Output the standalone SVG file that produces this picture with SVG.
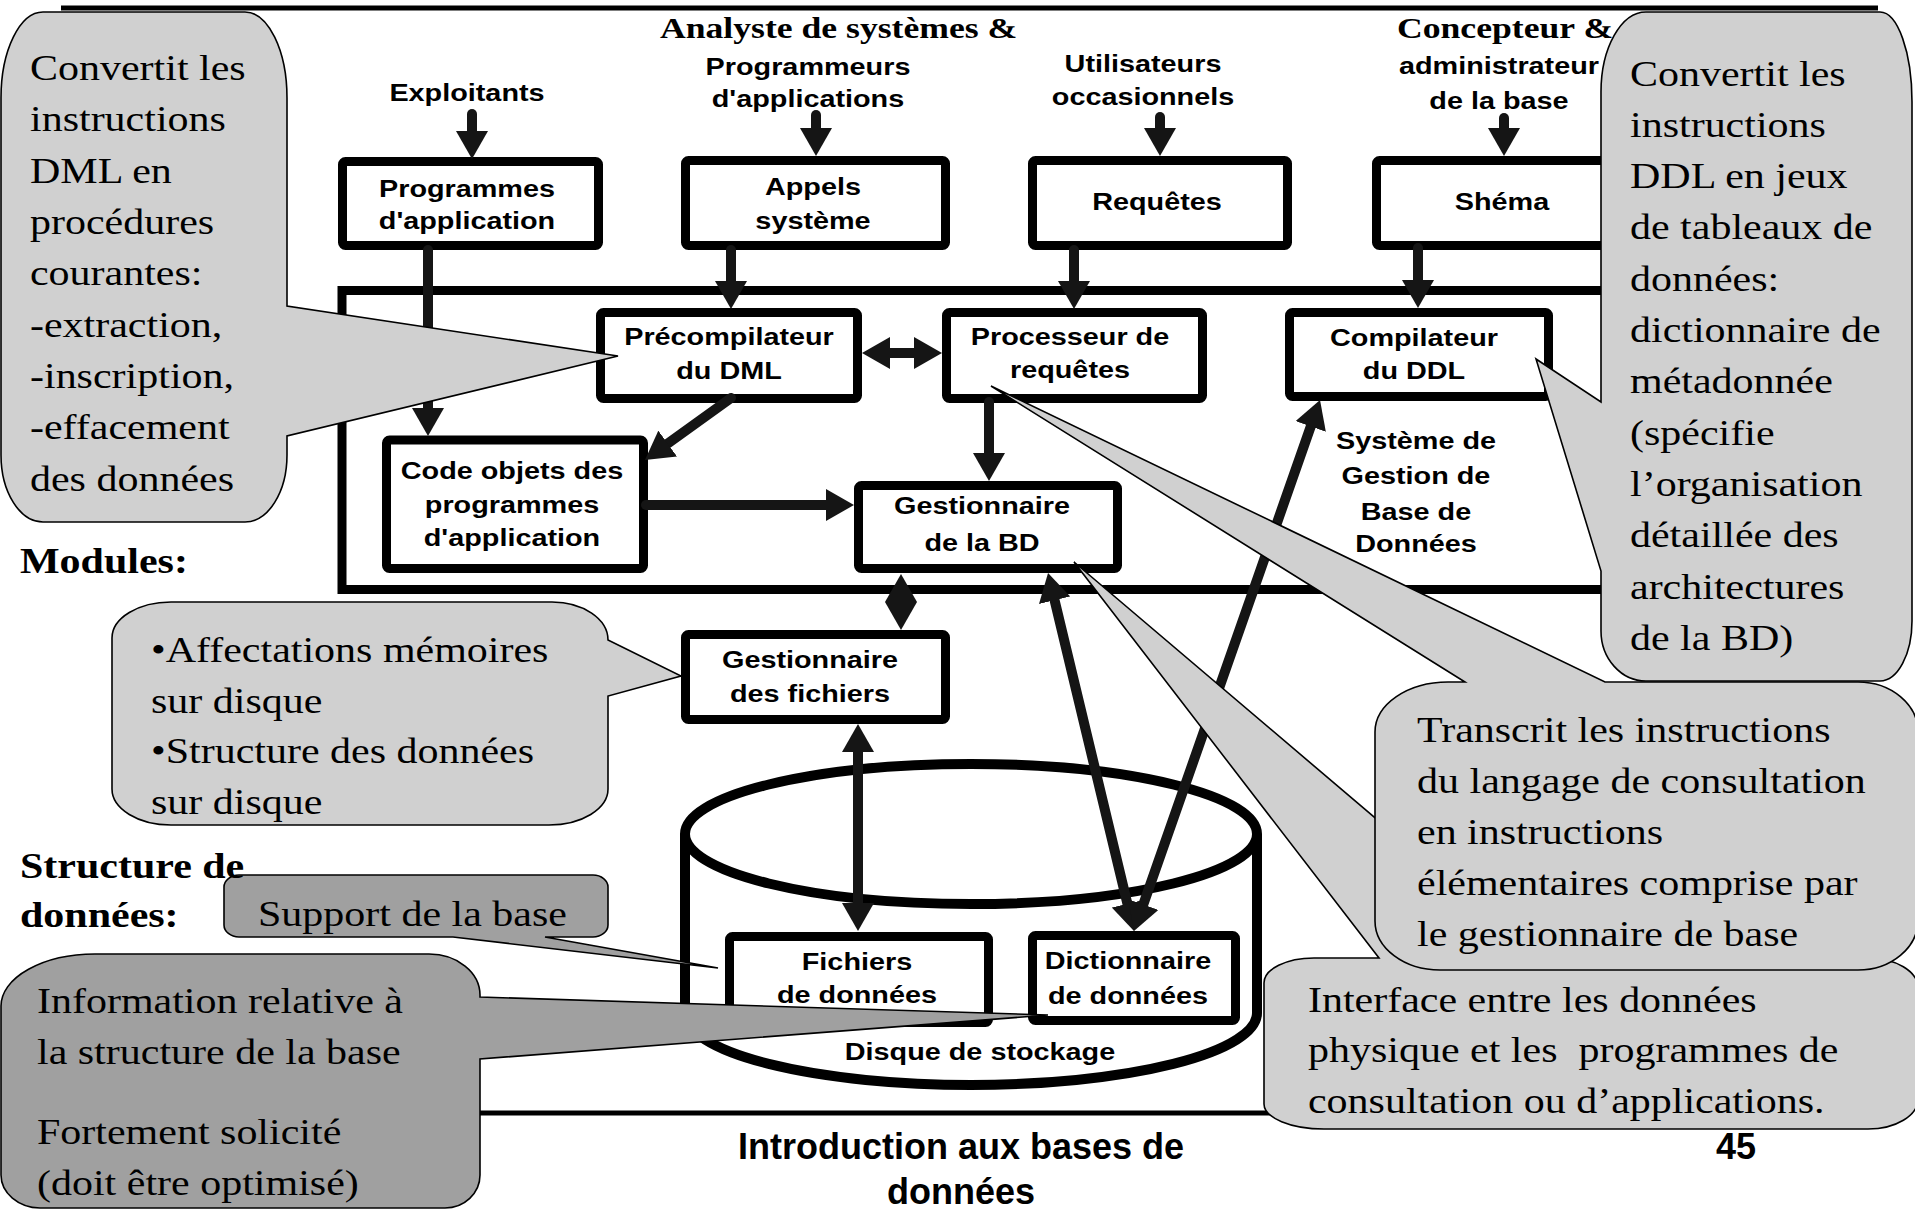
<svg xmlns="http://www.w3.org/2000/svg" width="1915" height="1210" viewBox="0 0 1915 1210">
<style>
.lbl{font-family:"Liberation Sans",Arial,sans-serif;font-weight:bold;font-size:24px;text-anchor:middle;fill:#000}
.co{font-family:"Liberation Serif","Times New Roman",serif;font-size:35px;fill:#000}
.hd{font-family:"Liberation Serif","Times New Roman",serif;font-weight:bold;font-size:35px;fill:#000}
.act{font-family:"Liberation Serif","Times New Roman",serif;font-weight:bold;font-size:29.7px;fill:#000}
.foot{font-family:"Liberation Sans",Arial,sans-serif;font-weight:bold;font-size:36px;fill:#000;text-anchor:middle}
.box{fill:#fff;stroke:#000;stroke-width:9}
.frame{fill:none;stroke:#000;stroke-width:9}
.rule{stroke:#000;stroke-width:5}
.arr{stroke:#151515;stroke-width:10;fill:none;stroke-linecap:round}
.light{fill:#d0d0d0;stroke:#000;stroke-width:1.6;stroke-linejoin:miter}
.dark{fill:#a0a0a0;stroke:#000;stroke-width:1.6}
.pre{white-space:pre}
</style>
<defs>
<marker id="ah" viewBox="0 0 28 32" refX="8" refY="16" markerWidth="28" markerHeight="32" markerUnits="userSpaceOnUse" orient="auto-start-reverse">
<path d="M0,0 L28,16 L0,32 Z" fill="#151515"/>
</marker>
</defs>
<rect width="1915" height="1210" fill="#fff"/>

<g id="page-rules">
<line class="rule" x1="61" y1="8" x2="1878" y2="8"/>
<line class="rule" x1="50" y1="1113" x2="1878" y2="1113"/>
</g>

<g id="dbms-frame">
<rect class="frame" x="342" y="290.5" width="1330" height="299"/>
<text class="lbl" transform="matrix(1.2 0 0 1 -283.2 0)"><tspan x="1416" y="449">Système de</tspan><tspan x="1416" y="484">Gestion de</tspan><tspan x="1416" y="520">Base de</tspan><tspan x="1416" y="552">Données</tspan></text>
</g>

<g id="disque">
<path d="M685,834 L685,1013 A286,72 0 0 0 1257,1013 L1257,834" fill="#fff" stroke="#000" stroke-width="10"/>
<ellipse cx="971" cy="834" rx="286" ry="70" fill="#fff" stroke="#000" stroke-width="10"/>
<text class="lbl" transform="matrix(1.2 0 0 1 -196 0)" x="980" y="1060">Disque de stockage</text>
</g>

<g id="exploitants">
<text class="lbl" transform="matrix(1.2 0 0 1 -93.4 0)" x="467" y="101">Exploitants</text>
</g>
<g id="programmeurs">
<text class="act" transform="matrix(1.2 0 0 1 -132 0)" x="660" y="38">Analyste de systèmes &amp;</text>
<text class="lbl" transform="matrix(1.2 0 0 1 -161.6 0)"><tspan x="808" y="75">Programmeurs</tspan><tspan x="808" y="107">d'applications</tspan></text>
</g>
<g id="utilisateurs">
<text class="lbl" transform="matrix(1.2 0 0 1 -228.6 0)"><tspan x="1143" y="72">Utilisateurs</tspan><tspan x="1143" y="105">occasionnels</tspan></text>
</g>
<g id="concepteur">
<text class="act" transform="matrix(1.2 0 0 1 -279.4 0)" x="1397" y="38">Concepteur &amp;</text>
<text class="lbl" transform="matrix(1.2 0 0 1 -299.8 0)"><tspan x="1499" y="74">administrateur</tspan><tspan x="1499" y="109">de la base</tspan></text>
</g>

<g id="prog-app">
<rect class="box" x="342.5" y="161.5" width="256" height="84" rx="3"/>
<text class="lbl" transform="matrix(1.2 0 0 1 -93.4 0)"><tspan x="467" y="197">Programmes</tspan><tspan x="467" y="229">d'application</tspan></text>
</g>
<g id="appels">
<rect class="box" x="685.5" y="160.5" width="260" height="85" rx="3"/>
<text class="lbl" transform="matrix(1.2 0 0 1 -162.6 0)"><tspan x="813" y="195">Appels</tspan><tspan x="813" y="229">système</tspan></text>
</g>
<g id="requetes">
<rect class="box" x="1032.5" y="160.5" width="255" height="85" rx="3"/>
<text class="lbl" transform="matrix(1.2 0 0 1 -231.4 0)" x="1157" y="210">Requêtes</text>
</g>
<g id="shema">
<rect class="box" x="1376.5" y="160.5" width="260" height="85" rx="3"/>
<text class="lbl" transform="matrix(1.2 0 0 1 -300.4 0)" x="1502" y="210">Shéma</text>
</g>
<g id="precompilateur">
<rect class="box" x="600.5" y="312.5" width="257" height="86" rx="3"/>
<text class="lbl" transform="matrix(1.2 0 0 1 -145.8 0)"><tspan x="729" y="345">Précompilateur</tspan><tspan x="729" y="379">du DML</tspan></text>
</g>
<g id="processeur">
<rect class="box" x="946.5" y="312.5" width="256" height="86" rx="3"/>
<text class="lbl" transform="matrix(1.2 0 0 1 -214 0)"><tspan x="1070" y="345">Processeur de</tspan><tspan x="1070" y="378">requêtes</tspan></text>
</g>
<g id="compilateur">
<rect class="box" x="1289.5" y="312.5" width="259" height="84" rx="3"/>
<text class="lbl" transform="matrix(1.2 0 0 1 -282.8 0)"><tspan x="1414" y="346">Compilateur</tspan><tspan x="1414" y="379">du DDL</tspan></text>
</g>
<g id="code-objets">
<rect class="box" x="386.5" y="440" width="257" height="128.5" rx="3"/>
<text class="lbl" transform="matrix(1.2 0 0 1 -102.4 0)"><tspan x="512" y="479">Code objets des</tspan><tspan x="512" y="513">programmes</tspan><tspan x="512" y="546">d'application</tspan></text>
</g>
<g id="gestionnaire-bd">
<rect class="box" x="858.5" y="485.5" width="259" height="83" rx="3"/>
<text class="lbl" transform="matrix(1.2 0 0 1 -196.4 0)"><tspan x="982" y="514">Gestionnaire</tspan><tspan x="982" y="551">de la BD</tspan></text>
</g>
<g id="gestionnaire-fichiers">
<rect class="box" x="685.5" y="634.5" width="260" height="85" rx="3"/>
<text class="lbl" transform="matrix(1.2 0 0 1 -162 0)"><tspan x="810" y="668">Gestionnaire</tspan><tspan x="810" y="702">des fichiers</tspan></text>
</g>
<g id="fichiers">
<rect class="box" x="729.5" y="936.5" width="259" height="86" rx="3"/>
<text class="lbl" transform="matrix(1.2 0 0 1 -171.4 0)"><tspan x="857" y="970">Fichiers</tspan><tspan x="857" y="1003">de données</tspan></text>
</g>
<g id="dictionnaire">
<rect class="box" x="1032.5" y="935.5" width="203" height="85" rx="3"/>
<text class="lbl" transform="matrix(1.2 0 0 1 -225.6 0)"><tspan x="1128" y="969">Dictionnaire</tspan><tspan x="1128" y="1004">de données</tspan></text>
</g>

<g id="connectors">
<line class="arr" x1="472" y1="114" x2="472" y2="139" marker-end="url(#ah)"/>
<line class="arr" x1="816" y1="115" x2="816" y2="136" marker-end="url(#ah)"/>
<line class="arr" x1="1160" y1="117" x2="1160" y2="136" marker-end="url(#ah)"/>
<line class="arr" x1="1504" y1="118" x2="1504" y2="136" marker-end="url(#ah)"/>
<line class="arr" x1="428" y1="250" x2="428" y2="416" marker-end="url(#ah)"/>
<line class="arr" x1="731" y1="250" x2="731" y2="289" marker-end="url(#ah)"/>
<line class="arr" x1="1074" y1="250" x2="1074" y2="289" marker-end="url(#ah)"/>
<line class="arr" x1="1418" y1="248" x2="1418" y2="288" marker-end="url(#ah)"/>
<line class="arr" x1="882" y1="353" x2="922" y2="353" marker-start="url(#ah)" marker-end="url(#ah)"/>
<line class="arr" x1="731" y1="398" x2="661.2" y2="448.3" marker-end="url(#ah)"/>
<line class="arr" x1="646" y1="505" x2="834" y2="505" marker-end="url(#ah)"/>
<line class="arr" x1="989" y1="402" x2="989" y2="461" marker-end="url(#ah)"/>
<polygon points="901,574 917,602 901,630 885,602" fill="#151515"/>
<line class="arr" x1="858" y1="744" x2="858" y2="911" marker-start="url(#ah)" marker-end="url(#ah)"/>
<line class="arr" x1="1052.7" y1="592.4" x2="1129.3" y2="911.6" marker-start="url(#ah)" marker-end="url(#ah)"/>
<line class="arr" x1="1140.6" y1="912.1" x2="1313.4" y2="418.9" marker-start="url(#ah)" marker-end="url(#ah)"/>
</g>

<g id="callout-dml">
<path class="light" d="M43,12 H245 A42,86 0 0 1 287,98 V306 L618,356 L287,436 V455 A42,67 0 0 1 245,522 H43 A42,67 0 0 1 1,455 V98 A42,86 0 0 1 43,12 Z"/>
<text class="co" transform="matrix(1.2 0 0 1 -6 0)"><tspan x="30" y="80">Convertit les</tspan><tspan x="30" y="131">instructions</tspan><tspan x="30" y="183">DML en</tspan><tspan x="30" y="234">procédures</tspan><tspan x="30" y="285">courantes:</tspan><tspan x="30" y="337">-extraction,</tspan><tspan x="30" y="388">-inscription,</tspan><tspan x="30" y="439">-effacement</tspan><tspan x="30" y="491">des données</tspan></text>
</g>

<g id="callout-ddl">
<path class="light" d="M1646,12 H1880 A32,90 0 0 1 1912,102 V621 A32,60 0 0 1 1880,681 H1646 A45,50 0 0 1 1601,631 V571 L1536,359 L1601,402 V92 A45,80 0 0 1 1646,12 Z"/>
<text class="co" transform="matrix(1.2 0 0 1 -326 0)"><tspan x="1630" y="86">Convertit les</tspan><tspan x="1630" y="137">instructions</tspan><tspan x="1630" y="188">DDL en jeux</tspan><tspan x="1630" y="239">de tableaux de</tspan><tspan x="1630" y="291">données:</tspan><tspan x="1630" y="342">dictionnaire de</tspan><tspan x="1630" y="393">métadonnée</tspan><tspan x="1630" y="445">(spécifie</tspan><tspan x="1630" y="496">l’organisation</tspan><tspan x="1630" y="547">détaillée des</tspan><tspan x="1630" y="599">architectures</tspan><tspan x="1630" y="650">de la BD)</tspan></text>
</g>

<g id="callout-interface">
<path class="light" d="M1314,958 H1379 L1074,562 L1540,958 H1868 A50,30 0 0 1 1918,988 V1099 A50,30 0 0 1 1868,1129 H1324 A60,25 0 0 1 1264,1104 V983 A50,25 0 0 1 1314,958 Z"/>
<text class="co pre" xml:space="preserve" transform="matrix(1.2 0 0 1 -261.6 0)"><tspan x="1308" y="1012">Interface entre les données</tspan><tspan x="1308" y="1062">physique et les  programmes de</tspan><tspan x="1308" y="1113">consultation ou d’applications.</tspan></text>
</g>

<g id="callout-transcrit">
<path class="light" d="M1448,682 H1465 L991,386 L1605,682 H1858 A60,50 0 0 1 1918,732 V920 A60,50 0 0 1 1858,970 H1440 A65,49 0 0 1 1375,921 V732 A73,50 0 0 1 1448,682 Z"/>
<text class="co" transform="matrix(1.2 0 0 1 -283.4 0)"><tspan x="1417" y="742">Transcrit les instructions</tspan><tspan x="1417" y="793">du langage de consultation</tspan><tspan x="1417" y="844">en instructions</tspan><tspan x="1417" y="895">élémentaires comprise par</tspan><tspan x="1417" y="946">le gestionnaire de base</tspan></text>
</g>

<g id="callout-affectations">
<path class="light" d="M171,602 H552 A56,38 0 0 1 608,640 L681,676 L608,696 V789 A59,36 0 0 1 549,825 H171 A59,36 0 0 1 112,789 V638 A59,36 0 0 1 171,602 Z"/>
<text class="co" transform="matrix(1.2 0 0 1 -30.2 0)"><tspan x="151" y="662">•Affectations mémoires</tspan><tspan x="151" y="713">sur disque</tspan><tspan x="151" y="763">•Structure des données</tspan><tspan x="151" y="814">sur disque</tspan></text>
</g>

<g id="callout-support">
<path class="dark" d="M239,875 H593 A15,12 0 0 1 608,887 V925 A15,12 0 0 1 593,937 H545 L718,968 L453,937 H239 A15,12 0 0 1 224,925 V887 A15,12 0 0 1 239,875 Z"/>
<text class="co" transform="matrix(1.2 0 0 1 -51.6 0)" x="258" y="926">Support de la base</text>
</g>

<g id="callout-information">
<path class="dark" d="M95,954 H429 A51,41 0 0 1 480,995 V997 L1048,1015 L480,1059 V1175 A35,33 0 0 1 445,1208 H40 A40,33 0 0 1 1,1175 V1006 A94,52 0 0 1 95,954 Z"/>
<text class="co" transform="matrix(1.2 0 0 1 -7.4 0)"><tspan x="37" y="1013">Information relative à</tspan><tspan x="37" y="1064">la structure de la base</tspan><tspan x="37" y="1144">Fortement solicité</tspan><tspan x="37" y="1195">(doit être optimisé)</tspan></text>
</g>

<g id="section-labels">
<text class="hd" transform="matrix(1.2 0 0 1 -4 0)" x="20" y="573">Modules:</text>
<text class="hd" transform="matrix(1.2 0 0 1 -4 0)"><tspan x="20" y="878">Structure de</tspan><tspan x="20" y="927">données:</tspan></text>
</g>

<g id="footer">
<text class="foot"><tspan x="961" y="1159">Introduction aux bases de</tspan><tspan x="961" y="1204">données</tspan></text>
<text class="foot" x="1736" y="1159">45</text>
</g>
</svg>
